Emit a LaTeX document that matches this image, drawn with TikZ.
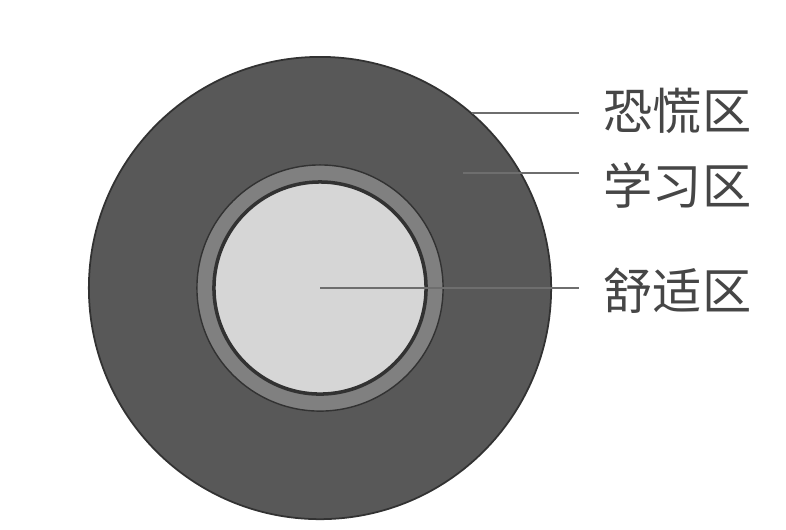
\documentclass[tikz,border=0pt]{standalone}
\usepackage{fontspec}
\newfontfamily\cjk{Noto Sans CJK SC}
\usepackage{xcolor}
\usetikzlibrary{positioning}

\definecolor{panicgray}{RGB}{88,88,88}
\definecolor{learngray}{RGB}{128,128,128}
\definecolor{comfortgray}{RGB}{214,214,214}
\definecolor{edgegray}{RGB}{50,50,50}
\definecolor{linegray}{RGB}{110,110,110}
\definecolor{textgray}{RGB}{70,70,70}

\tikzset{
  zone/.style={circle, inner sep=0pt, draw=edgegray},
  zonetext/.style={font=\cjk\fontsize{14}{16}\selectfont, text=textgray,
    inner ysep=0pt, inner xsep=0.24cm, anchor=west},
  leader/.style={line width=0.6pt, linegray}
}

\begin{document}
\begin{tikzpicture}[x=0.01cm, y=-0.01cm]
  \useasboundingbox[fill=white] (0,0) rectangle (786,529);

  % the three zones
  \node[zone, fill=panicgray, line width=0.5pt, minimum size=4.62cm] (panic) at (320,288) {};
  \node[zone, fill=learngray, line width=0.4pt, minimum size=2.46cm] (learn) at (320,288) {};
  \node[zone, fill=comfortgray, line width=1pt, minimum size=2.12cm] (comfort) at (320,288) {};

  \node[zonetext] (panicl) at (579,111) {恐慌区};
  \node[zonetext] (learnl) at (579,186) {学习区};
  \node[zonetext] (comfortl) at (579,291) {舒适区};

  \coordinate (learnstart) at (463,173);

  \draw[leader] (panic.49) -- (panic.49 -| panicl.west);
  \draw[leader] (learnstart) -- (learnstart -| learnl.west);
  \draw[leader] (comfort.center) -- (comfort.center -| comfortl.west);

\end{tikzpicture}
\end{document}
